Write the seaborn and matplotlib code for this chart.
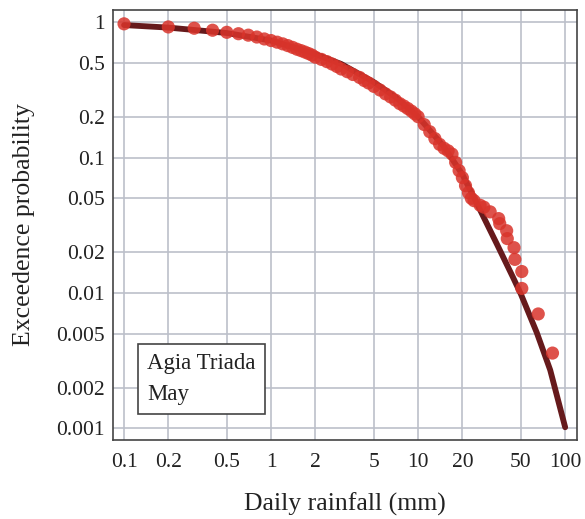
import numpy as np
import pandas as pd
import matplotlib
matplotlib.use("Agg")
import matplotlib.pyplot as plt
import seaborn as sns

obs_rain = [0.1, 0.2, 0.3, 0.4, 0.5, 0.6, 0.7, 0.8, 0.9, 1.0,
            1.1, 1.2, 1.3, 1.4, 1.5, 1.6, 1.7, 1.8, 1.9, 2.0,
            2.2, 2.4, 2.6, 2.8, 3.0, 3.3, 3.6, 4.0, 4.3, 4.6,
            5.0, 5.5, 6.0, 6.5, 7.0, 7.5, 8.0, 8.5, 9.0, 9.5,
            10, 11, 12, 13, 14, 15, 16, 17, 18, 19,
            20, 21, 22, 23, 24, 26.4, 28, 30.9, 35.3, 35.9,
            40.0, 40.4, 44.9, 45.5, 50.7, 50.7, 65.6, 82.0]
obs_prob = [0.97, 0.92, 0.90, 0.87, 0.84, 0.82, 0.80, 0.775, 0.75, 0.73,
            0.71, 0.69, 0.67, 0.65, 0.63, 0.615, 0.60, 0.585, 0.57, 0.55,
            0.53, 0.51, 0.49, 0.47, 0.45, 0.43, 0.41, 0.39, 0.37, 0.355,
            0.335, 0.315, 0.295, 0.28, 0.265, 0.25, 0.24, 0.23, 0.22, 0.21,
            0.20, 0.175, 0.155, 0.138, 0.125, 0.117, 0.112, 0.106, 0.092, 0.080,
            0.071, 0.062, 0.055, 0.050, 0.048, 0.0444, 0.043, 0.0397, 0.0354, 0.0325,
            0.0288, 0.0252, 0.0216, 0.0177, 0.0144, 0.0108, 0.0070, 0.0036]

# fitted curve
fit_rain = [0.1, 0.2, 0.5, 1, 2, 3, 5, 7, 10, 15, 20, 26.4, 34.3, 44.1, 50, 64.1, 79.1, 100]
fit_prob = [0.95, 0.91, 0.83, 0.73, 0.58, 0.49, 0.36, 0.28, 0.20, 0.12, 0.075, 0.041,
            0.023, 0.0131, 0.0098, 0.0051, 0.0027, 0.00102]

x_ticks = [0.1, 0.2, 0.5, 1, 2, 5, 10, 20, 50, 100]
x_labels = ["0.1", "0.2", "0.5", "1", "2", "5", "10", "20", "50", "100"]
y_ticks = [0.001, 0.002, 0.005, 0.01, 0.02, 0.05, 0.1, 0.2, 0.5, 1]
y_labels = ["0.001", "0.002", "0.005", "0.01", "0.02", "0.05", "0.1", "0.2", "0.5", "1"]

sns.set_style("whitegrid")
plt.rcParams['font.family'] = ['Liberation Serif', 'DejaVu Serif']

obs = pd.DataFrame({"rain": obs_rain, "prob": obs_prob})
fit = pd.DataFrame({"rain": fit_rain, "prob": fit_prob})

fig = plt.figure(figsize=(5.85, 5.19), dpi=100)
ax = fig.add_axes([0.193, 0.152, 0.793, 0.829])

sns.lineplot(data=fit, x="rain", y="prob", color="#661a1c", linewidth=4.2, ax=ax, zorder=3)
sns.scatterplot(data=obs, x="rain", y="prob", color="#d9342b", alpha=0.85, s=90,
                edgecolor="none", ax=ax, zorder=4)

ax.set_xscale("log")
ax.set_yscale("log")
ax.set_xlim(0.084, 120)
ax.set_ylim(0.00082, 1.23)
ax.set_xticks(x_ticks)
ax.set_xticklabels(x_labels)
ax.set_yticks(y_ticks)
ax.set_yticklabels(y_labels)
ax.minorticks_off()

ax.grid(True, color="#bcc0ca", linewidth=1.2)
ax.tick_params(direction="in", length=7, width=1, color="#444444", labelsize=15.5,
               labelcolor="#222222")
ax.tick_params(axis="x", pad=9)
ax.tick_params(axis="y", pad=6)
for sp in ax.spines.values():
    sp.set_color("#444444")
    sp.set_linewidth(1.2)

ax.set_xlabel("Daily rainfall (mm)", fontsize=18.5, color="#222222", labelpad=15)
ax.set_ylabel("Exceedence probability", fontsize=18.5, color="#222222", labelpad=15)

ax.text(0.1434, 0.0036, "Agia Triada\nMay", fontsize=16.5, color="#222222",
        va="top", ha="left", linespacing=1.6, zorder=5,
        bbox=dict(boxstyle="square,pad=0.4", facecolor="white", edgecolor="#444444", linewidth=1.2))

fig.savefig("out.png", dpi=100)
